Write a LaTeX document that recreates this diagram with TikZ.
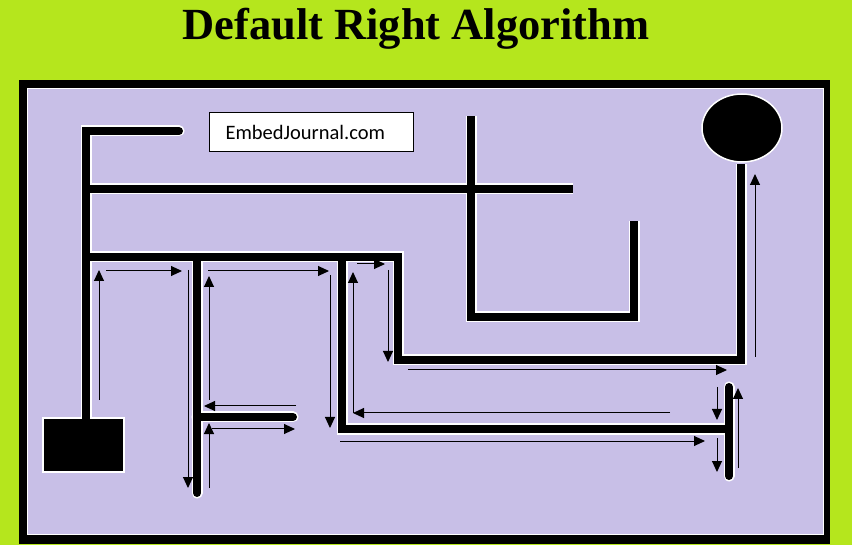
\documentclass[tikz,border=0pt]{standalone}
\usepackage{fontspec}
\newfontfamily\titlefont{Liberation Serif}
\newfontfamily\sitefont{Carlito}
\usetikzlibrary{arrows.meta}

\definecolor{bglime}{HTML}{B5E61D}
\definecolor{mazelav}{HTML}{C8BFE7}

% all maze walls, drawn once as white halo and once in black
\newcommand{\mazewalls}[1]{%
  \begin{scope}[#1]
    \draw[line cap=round] (179,131) -- (86,131) -- (86,419);
    \draw (86,189) -- (573,189);
    \draw (471,116) -- (471,317) -- (634,317) -- (634,221);
    \draw (82,257) -- (398,257) -- (398,360) -- (741,360) -- (741,164);
    \draw[line cap=round] (197,257) -- (197,493);
    \draw[line cap=round] (197,417) -- (293,417);
    \draw (342,257) -- (342,429) -- (729,429);
    \draw[line cap=round] (729,387) -- (729,476);
  \end{scope}}

\begin{document}
\begin{tikzpicture}[
  x=1pt, y=-1pt,
  trail/.style = {-{Triangle[length=11pt, width=10pt]}, line width=1pt},
  sitebox/.style = {draw, fill=white, line width=1pt, minimum width=204pt, minimum height=39pt,
                    inner xsep=16pt, text width=172pt, align=left,
                    font=\sitefont\fontsize{20.5}{24}\selectfont},
  goal/.style = {fill=black, draw=white, line width=1.5pt}
]

% Background and frame
\useasboundingbox (0,0) rectangle (852,545);
\fill[bglime] (0,0) rectangle (852,545);
\fill[black] (19,80) rectangle (830,544);
\filldraw[fill=mazelav, draw=white, line width=1.5pt] (27.5,88.5) rectangle (823.5,534.5);

% Title
\node[anchor=base, font=\titlefont\bfseries\fontsize{44.5}{50}\selectfont] (title) at (416,40) {Default Right Algorithm};

% Site label
\node[sitebox, anchor=north west] (site) at (209,112) {EmbedJournal.com};

% Walls
\mazewalls{white, line width=11pt}
\filldraw[goal] (43,418) rectangle (124,472);
\filldraw[goal] (742,128) ellipse [x radius=40, y radius=34];
\mazewalls{black, line width=8pt}

% Path along the right hand wall
\draw[trail] (99,400) -- (99,270);
\draw[trail] (106,271) -- (182,271);
\draw[trail] (188,270) -- (188,488);
\draw[trail] (209,488) -- (209,423);
\draw[trail] (212,429) -- (295,429);
\draw[trail] (296,406) -- (204,406);
\draw[trail] (209,400) -- (209,276);
\draw[trail] (208,271) -- (329,271);
\draw[trail] (330,275) -- (330,428);
\draw[trail] (340,441) -- (705,441);
\draw[trail] (717,438) -- (717,472);
\draw[trail] (738,468) -- (738,388);
\draw[trail] (717,387) -- (717,420);
\draw[trail] (670,413) -- (353,413);
\draw[trail] (353,413) -- (353,272);
\draw[trail] (357,264) -- (385,264);
\draw[trail] (388,270) -- (388,362);
\draw[trail] (408,370) -- (727,370);
\draw[trail] (755,357) -- (755,174);

\end{tikzpicture}
\end{document}
